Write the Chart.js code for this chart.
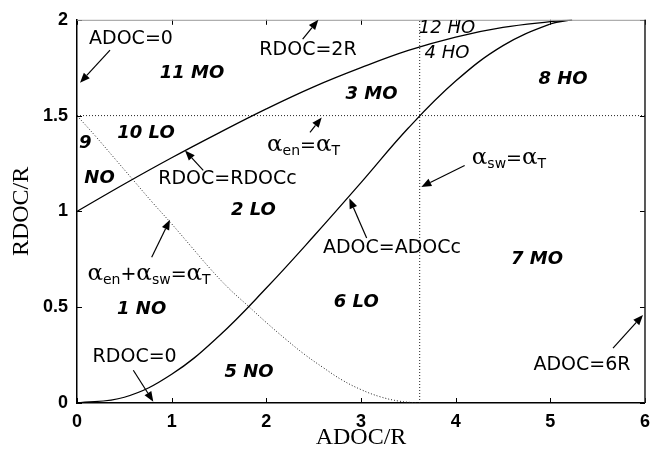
<!DOCTYPE html>
<html lang="en">
<head>
<meta charset="UTF-8">
<title>ADOC/R – RDOC/R regimes</title>
<script src="https://cdn.jsdelivr.net/npm/chart.js"></script>
<style>
  html, body { margin: 0; padding: 0; background: #fff; }
</style>
</head>
<body>
<canvas id="regimeChart" width="658" height="456"></canvas>
<script>
  // boundary curves (ADOC/R on x, RDOC/R on y)
  const rdocCritX = [0, 0.5, 1.0, 1.5, 2.0, 2.5, 3.0, 3.5, 4.0, 4.5, 5.0, 5.23];
  const rdocCritY = [1.0, 1.143, 1.28, 1.41, 1.535, 1.65, 1.75, 1.84, 1.91, 1.96, 1.99, 2.0];

  const adocCritX = [0, 0.5, 1.0, 1.5, 2.0, 2.5, 3.0, 3.5, 4.0, 4.5, 5.0, 5.23];
  const adocCritY = [0, 0.03, 0.15, 0.35, 0.60, 0.87, 1.15, 1.435, 1.68, 1.865, 1.978, 2.0];

  // alpha_en + alpha_sw = alpha_T
  const sumX = [0, 0.2, 0.4, 0.6, 0.8, 1.0, 1.2, 1.4, 1.6, 1.8, 2.0, 2.2, 2.4, 2.6, 2.8, 3.0, 3.2, 3.4, 3.6];
  const sumY = [1.5, 1.39, 1.275, 1.16, 1.045, 0.935, 0.82, 0.705, 0.60, 0.51, 0.42, 0.335, 0.255, 0.185, 0.12, 0.07, 0.033, 0.01, 0];

  // alpha_en = alpha_T and alpha_sw = alpha_T
  const enLevelY = 1.5;
  const swLevelX = 3.62;

  const xTicks = [0, 1, 2, 3, 4, 5, 6];
  const yTicks = [0, 0.5, 1, 1.5, 2];

  const pts = (xs, ys) => xs.map((x, i) => ({ x: x, y: ys[i] }));

  // region names and boundary labels: [text, x, y]
  const regionLabels = [
    ['11 MO', 1.215, 1.721], ['10 LO', 0.729, 1.406], ['9', 0.088, 1.357], ['NO', 0.238, 1.171],
    ['3 MO', 3.111, 1.609], ['8 HO', 5.134, 1.687], ['2 LO', 1.863, 1.007], ['7 MO', 4.859, 0.750],
    ['6 LO', 2.95, 0.528], ['1 NO', 0.683, 0.490], ['5 NO', 1.817, 0.162]
  ];
  const thinRegionLabels = [['12 HO', 3.908, 1.954], ['4 HO', 3.908, 1.827]];
  const boundaryLabels = [
    ['ADOC=0', 0.570, 1.902], ['RDOC=2R', 2.44, 1.844], ['RDOC=RDOCc', 1.590, 1.167],
    ['ADOC=ADOCc', 3.327, 0.809], ['RDOC=0', 0.609, 0.240], ['ADOC=6R', 5.334, 0.200]
  ];
  const alphaLabels = [
    [[['α', 'a'], ['en', 's'], ['=', 'n'], ['α', 'a'], ['T', 's']], 2.393, 1.345],
    [[['α', 'a'], ['sw', 's'], ['=', 'n'], ['α', 'a'], ['T', 's']], 4.563, 1.278],
    [[['α', 'a'], ['en', 's'], ['+', 'n'], ['α', 'a'], ['sw', 's'], ['=', 'n'], ['α', 'a'], ['T', 's']], 0.761, 0.674]
  ];
  // arrows: [tailX, tailY, headX, headY]
  const arrows = [
    [0.349, 1.842, 0.032, 1.671],
    [2.384, 1.899, 2.549, 2.0],
    [2.461, 1.413, 2.585, 1.490],
    [4.095, 1.240, 3.637, 1.128],
    [1.334, 1.214, 1.141, 1.318],
    [0.789, 0.761, 0.982, 0.956],
    [3.06, 0.861, 2.877, 1.068],
    [0.595, 0.171, 0.806, 0.007],
    [5.662, 0.286, 5.979, 0.459]
  ];

  const richFonts = {
    a: { font: '23px "DejaVu Serif"', dy: 0 },
    s: { font: '14px "DejaVu Sans"', dy: 4 },
    n: { font: '19px "DejaVu Sans"', dy: 0 }
  };

  // inward ticks on all four sides plus the top/right frame
  const frameTicks = {
    id: 'frameTicks',
    afterDatasetsDraw(chart) {
      const { ctx, chartArea: a, scales: { x, y } } = chart;
      ctx.save();
      ctx.strokeStyle = '#000';
      ctx.lineWidth = 1;
      ctx.beginPath();
      xTicks.forEach(v => {
        const px = Math.round(x.getPixelForValue(v)) + 0.5;
        ctx.moveTo(px, a.bottom); ctx.lineTo(px, a.bottom - 5);
        ctx.moveTo(px, a.top); ctx.lineTo(px, a.top + 5);
      });
      yTicks.forEach(v => {
        const py = Math.round(y.getPixelForValue(v)) + 0.5;
        ctx.moveTo(a.left, py); ctx.lineTo(a.left + 5, py);
        ctx.moveTo(a.right, py); ctx.lineTo(a.right - 5, py);
      });
      ctx.stroke();
      ctx.strokeStyle = '#999';
      ctx.beginPath();
      ctx.moveTo(a.left, a.top + 0.5); ctx.lineTo(a.right, a.top + 0.5);
      ctx.stroke();
      ctx.strokeStyle = '#222';
      ctx.lineWidth = 1.5;
      ctx.beginPath();
      ctx.moveTo(a.right, a.top); ctx.lineTo(a.right, a.bottom);
      ctx.stroke();
      ctx.restore();
    }
  };

  function drawRich(ctx, parts, cx, cy) {
    let w = 0;
    parts.forEach(p => { ctx.font = richFonts[p[1]].font; w += ctx.measureText(p[0]).width; });
    let px = cx - w / 2;
    const base = cy + 6;
    parts.forEach(p => {
      const f = richFonts[p[1]];
      ctx.font = f.font;
      ctx.fillText(p[0], px, base + f.dy);
      px += ctx.measureText(p[0]).width;
    });
  }

  function drawArrow(ctx, x0, y0, x1, y1) {
    const ang = Math.atan2(y1 - y0, x1 - x0);
    const len = 10, half = 4;
    const bx = x1 - len * Math.cos(ang), by = y1 - len * Math.sin(ang);
    ctx.beginPath();
    ctx.moveTo(x0, y0); ctx.lineTo(bx, by);
    ctx.stroke();
    ctx.beginPath();
    ctx.moveTo(x1, y1);
    ctx.lineTo(bx + half * Math.sin(ang), by - half * Math.cos(ang));
    ctx.lineTo(bx - half * Math.sin(ang), by + half * Math.cos(ang));
    ctx.closePath();
    ctx.fill();
  }

  const annotations = {
    id: 'annotations',
    afterDatasetsDraw(chart) {
      const { ctx, scales: { x, y } } = chart;
      ctx.save();
      ctx.fillStyle = '#000';
      ctx.strokeStyle = '#000';
      ctx.lineWidth = 1.2;
      ctx.textAlign = 'center';
      ctx.textBaseline = 'middle';

      ctx.font = 'italic bold 18px "DejaVu Sans"';
      regionLabels.forEach(([t, vx, vy]) => ctx.fillText(t, x.getPixelForValue(vx), y.getPixelForValue(vy)));
      ctx.font = 'italic 18px "DejaVu Sans"';
      thinRegionLabels.forEach(([t, vx, vy]) => ctx.fillText(t, x.getPixelForValue(vx), y.getPixelForValue(vy)));
      ctx.font = '19px "DejaVu Sans"';
      boundaryLabels.forEach(([t, vx, vy]) => ctx.fillText(t, x.getPixelForValue(vx), y.getPixelForValue(vy)));

      ctx.textAlign = 'left';
      ctx.textBaseline = 'alphabetic';
      alphaLabels.forEach(([parts, vx, vy]) => drawRich(ctx, parts, x.getPixelForValue(vx), y.getPixelForValue(vy)));

      arrows.forEach(([ax, ay, bx, by]) => drawArrow(ctx,
        x.getPixelForValue(ax), y.getPixelForValue(ay),
        x.getPixelForValue(bx), y.getPixelForValue(by)));
      ctx.restore();
    }
  };

  const solid = { showLine: true, borderColor: '#000', borderWidth: 1.3, pointRadius: 0, tension: 0.4 };
  const dotted = { showLine: true, borderColor: '#222', borderWidth: 1, pointRadius: 0, borderDash: [1, 2] };
  const tickFont = { family: 'Liberation Sans', weight: 'bold', size: 18 };
  const titleFont = { family: 'Liberation Serif', size: 24 };

  new Chart(document.getElementById('regimeChart').getContext('2d'), {
    type: 'scatter',
    data: {
      datasets: [
        Object.assign({ data: pts(rdocCritX, rdocCritY) }, solid),
        Object.assign({ data: pts(adocCritX, adocCritY) }, solid),
        Object.assign({ data: pts(sumX, sumY), tension: 0.4 }, dotted),
        Object.assign({ data: [{ x: 0, y: enLevelY }, { x: 6, y: enLevelY }] }, dotted),
        Object.assign({ data: [{ x: swLevelX, y: 0 }, { x: swLevelX, y: 2 }] }, dotted)
      ]
    },
    options: {
      responsive: false,
      animation: false,
      layout: { padding: { top: 16.5, right: 13, left: 0, bottom: 0 } },
      plugins: { legend: { display: false }, tooltip: { enabled: false } },
      scales: {
        x: {
          type: 'linear', min: 0, max: 6,
          afterBuildTicks: s => { s.ticks = xTicks.map(v => ({ value: v })); },
          afterFit: s => { s.height = 53; },
          grid: { drawOnChartArea: false, drawTicks: false },
          border: { display: true, color: '#000', width: 1.5 },
          ticks: { color: '#000', padding: 8, maxRotation: 0, font: tickFont, callback: v => String(v) },
          title: { display: true, text: 'ADOC/R', color: '#000', padding: { top: 0, bottom: 4 }, font: titleFont }
        },
        y: {
          type: 'linear', min: 0, max: 2,
          afterBuildTicks: s => { s.ticks = yTicks.map(v => ({ value: v })); },
          afterFit: s => { s.width = 77; },
          grid: { drawOnChartArea: false, drawTicks: false },
          border: { display: true, color: '#000', width: 1.5 },
          ticks: { color: '#000', padding: 9, font: tickFont, callback: v => String(v) },
          title: { display: true, text: 'RDOC/R', color: '#000', padding: { top: 7.5, bottom: 0 }, font: titleFont }
        }
      }
    },
    plugins: [frameTicks, annotations]
  });
</script>
</body>
</html>
